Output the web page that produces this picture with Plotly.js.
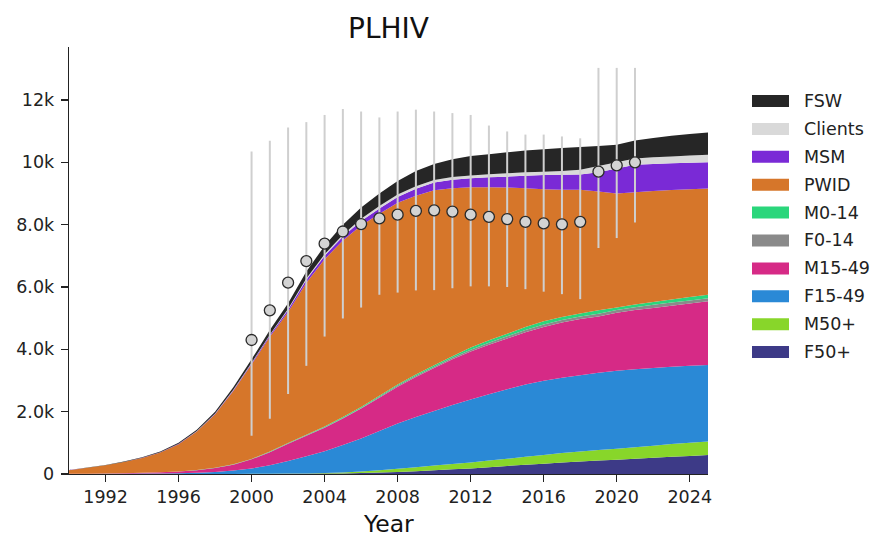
<!DOCTYPE html>
<html>
<head>
<meta charset="utf-8">
<script src="https://cdn.plot.ly/plotly-3.0.1.min.js"></script>
<style>html,body{margin:0;padding:0;background:#fff;}#chart{width:874px;height:538px;}</style>
</head>
<body>
<div id="chart"></div>
<script>
// ---- data ----
const years = [1990,1991,1992,1993,1994,1995,1996,1997,1998,1999,2000,2001,2002,2003,2004,2005,2006,2007,2008,2009,2010,2011,2012,2013,2014,2015,2016,2017,2018,2019,2020,2021,2022,2023,2024,2025];

const F50plus  = [0,0,0,0,0,0,0,1,1,2,3,4,6,9,13,20,30,45,65,90,120,150,180,220,260,300,330,370,400,430,460,490,520,550,580,610];
const M50plus  = [0,0,0,0,0,0,0,0,1,1,2,4,7,11,17,30,50,75,105,130,150,170,190,210,230,250,280,300,320,340,350,370,390,410,420,430];
const F15_49   = [3,4,6,9,13,19,28,42,66,107,175,272,407,550,700,880,1060,1260,1450,1610,1750,1890,2020,2130,2230,2320,2380,2420,2450,2480,2500,2500,2490,2480,2470,2460];
const M15_49   = [3,6,10,16,24,34,50,77,122,190,290,420,550,660,750,850,960,1070,1180,1280,1380,1470,1540,1590,1630,1680,1730,1770,1800,1800,1860,1900,1930,1960,2000,2040];
const F0_14    = [0,0,0,1,1,1,2,2,3,4,6,7,10,15,20,20,20,30,40,40,40,50,60,60,70,70,80,80,80,90,90,90,100,100,100,100];
const M0_14    = [1,1,1,1,2,2,3,4,5,6,9,13,15,15,20,30,30,30,30,40,50,50,70,80,80,100,100,100,100,110,80,90,90,100,110,110];
const PWID     = [117,190,260,356,477,634,875,1234,1717,2350,3035,3680,4205,4880,5370,5660,5820,5840,5830,5740,5610,5390,5140,4910,4690,4450,4240,4080,3970,3810,3660,3600,3560,3510,3460,3410];
const MSM      = [1,2,3,4,5,7,10,14,21,30,35,50,70,90,110,130,150,170,190,220,250,270,290,320,350,400,450,480,490,620,800,880,870,860,850,840];
const Clients  = [1,1,2,2,3,3,4,6,9,10,15,20,30,40,50,60,70,80,80,80,80,90,90,100,110,110,110,120,150,200,200,200,210,220,230,240];
const FSW      = [4,6,8,11,15,20,28,40,55,80,110,150,180,230,270,320,360,400,430,490,520,570,620,640,670,700,720,740,730,640,560,580,620,660,690,720];

// observed estimates with uncertainty
const dataYears = [2000,2001,2002,2003,2004,2005,2006,2007,2008,2009,2010,2011,2012,2013,2014,2015,2016,2017,2018,2019,2020,2021];
const dataValue = [4300,5250,6140,6830,7390,7780,8020,8200,8320,8440,8460,8420,8320,8250,8180,8090,8040,8010,8090,9700,9900,10000];
const dataUpper = [10350,10690,11120,11290,11520,11710,11630,11440,11630,11690,11630,11580,11520,11180,10990,10890,10890,10830,10770,13030,13030,13030];
const dataLower = [1230,1770,2570,3470,4410,4990,5340,5750,5820,5890,5900,5960,6020,6020,6000,5930,5850,5770,5610,7250,7570,8070];

const yTickVals = [0,2000,4000,6000,8000,10000,12000];
const yTickText = ['0','2.0k','4.0k','6.0k','8.0k','10k','12k'];
const xTickVals = [1992,1996,2000,2004,2008,2012,2016,2020,2024];

// ---- styling ----
const series = [
  {name:'F50+',    y:F50plus, color:'#3d3a87'},
  {name:'M50+',    y:M50plus, color:'#88d62a'},
  {name:'F15-49',  y:F15_49,  color:'#2a89d6'},
  {name:'M15-49',  y:M15_49,  color:'#d62a86'},
  {name:'F0-14',   y:F0_14,   color:'#8a8a8a'},
  {name:'M0-14',   y:M0_14,   color:'#2ad67b'},
  {name:'PWID',    y:PWID,    color:'#d6762a'},
  {name:'MSM',     y:MSM,     color:'#7a2ad6'},
  {name:'Clients', y:Clients, color:'#d9d9d9'},
  {name:'FSW',     y:FSW,     color:'#262626'}
];

const traces = series.map(s => ({
  type:'scatter', x:years, y:s.y, name:s.name,
  stackgroup:'one', mode:'none', fillcolor:s.color,
  line:{width:0}, hoverinfo:'skip', showlegend:false
}));

traces.push({
  type:'scatter', x:dataYears, y:dataValue, mode:'markers', showlegend:false, hoverinfo:'skip',
  marker:{size:11, color:'#d3d3d3', line:{color:'#2a2a2a', width:1.3}},
  error_y:{type:'data', symmetric:false,
    array:dataUpper.map((u,i)=>u-dataValue[i]),
    arrayminus:dataLower.map((l,i)=>dataValue[i]-l),
    color:'#cfcfcf', thickness:2, width:0}
});

// custom legend (top to bottom)
const shapes = [];
const annotations = [];
const legendOrder = series.slice().reverse();
legendOrder.forEach((s,i) => {
  const cy = 101 + i*27.9;
  shapes.push({type:'rect', xref:'paper', yref:'paper',
    x0:(752-69)/639, x1:(789-69)/639,
    y0:(474-(cy+6))/427, y1:(474-(cy-6))/427,
    fillcolor:s.color, line:{width:0}});
  annotations.push({xref:'paper', yref:'paper', x:(802-69)/639, y:(474-cy)/427,
    text:s.name, showarrow:false, xanchor:'left', yanchor:'middle',
    font:{family:'DejaVu Sans', size:17.5, color:'#222'}});
});
// x-axis title
annotations.push({xref:'paper', yref:'paper', x:0.5, y:(474-524)/427,
  text:'Year', showarrow:false, xanchor:'center', yanchor:'middle',
  font:{family:'DejaVu Sans', size:23.5, color:'#111'}});

const layout = {
  width:874, height:538,
  margin:{l:69, r:166, t:47, b:64},
  paper_bgcolor:'#fff', plot_bgcolor:'#fff',
  font:{family:'DejaVu Sans', size:17.5, color:'#222'},
  title:{text:'PLHIV', x:(69+708)/2/874, xanchor:'center', y:0.948, yanchor:'middle',
    font:{family:'DejaVu Sans', size:28, color:'#111'}},
  xaxis:{range:[1990,2025], tickvals:xTickVals, ticks:'outside', ticklen:7, tickwidth:1.3,
    tickcolor:'#222', showline:true, linecolor:'#222', linewidth:1.3, showgrid:false, zeroline:false},
  yaxis:{range:[0,13700], tickvals:yTickVals, ticktext:yTickText, ticks:'outside', ticklen:7, tickwidth:1.3,
    tickcolor:'#222', showline:true, linecolor:'#222', linewidth:1.3, showgrid:false, zeroline:false,
    ticklabelstandoff:3},
  shapes:shapes, annotations:annotations, showlegend:false
};

Plotly.newPlot('chart', traces, layout, {staticPlot:true, displayModeBar:false});
</script>
</body>
</html>
